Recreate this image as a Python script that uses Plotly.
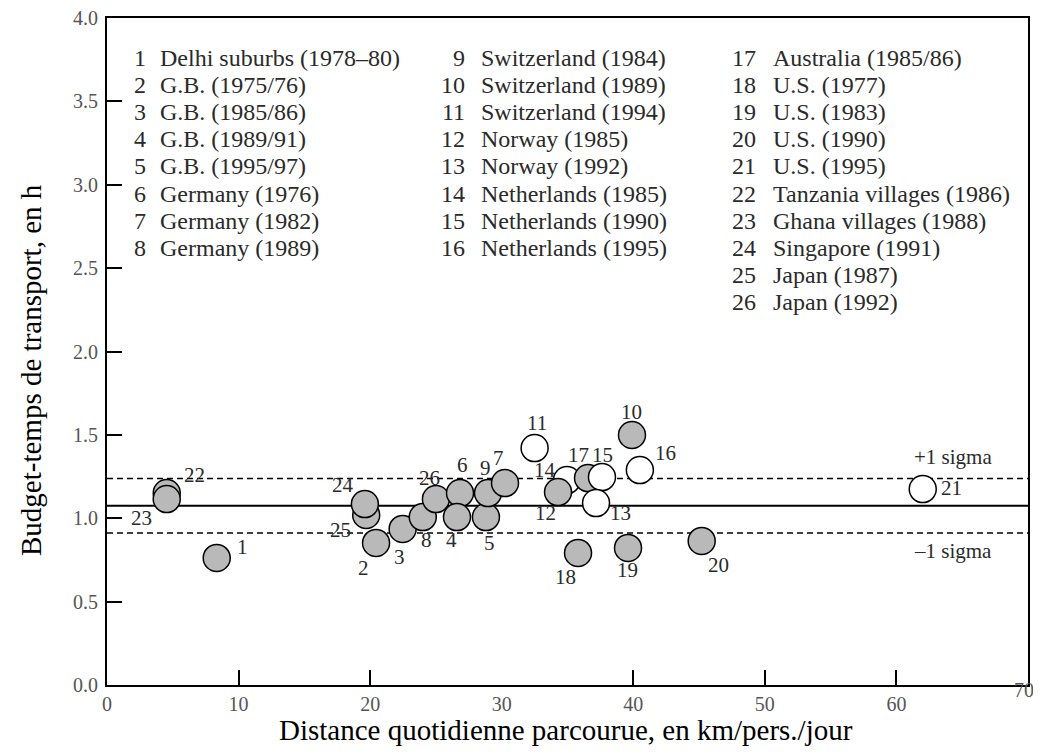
import plotly.graph_objects as go

# ---------------- data ----------------
IDS = list(range(1, 27))
NAMES = [
    "Delhi suburbs (1978–80)", "G.B. (1975/76)", "G.B. (1985/86)", "G.B. (1989/91)",
    "G.B. (1995/97)", "Germany (1976)", "Germany (1982)", "Germany (1989)",
    "Switzerland (1984)", "Switzerland (1989)", "Switzerland (1994)", "Norway (1985)",
    "Norway (1992)", "Netherlands (1985)", "Netherlands (1990)", "Netherlands (1995)",
    "Australia (1985/86)", "U.S. (1977)", "U.S. (1983)", "U.S. (1990)", "U.S. (1995)",
    "Tanzania villages (1986)", "Ghana villages (1988)", "Singapore (1991)",
    "Japan (1987)", "Japan (1992)",
]
DISTANCE = [8.34, 20.45, 22.47, 26.6, 28.8, 26.83, 30.25, 24.0, 28.96, 39.9, 32.5, 34.28,
            37.17, 34.96, 37.62, 40.5, 36.56, 35.8, 39.6, 45.2, 62.0, 4.54, 4.54, 19.6,
            19.7, 25.0]
BUDGET = [0.762, 0.852, 0.936, 1.007, 1.007, 1.151, 1.211, 1.007, 1.151, 1.499, 1.421,
          1.157, 1.091, 1.229, 1.247, 1.289, 1.241, 0.792, 0.822, 0.864, 1.175, 1.151,
          1.115, 1.085, 1.02, 1.115]
OPEN_IDS = [11, 13, 14, 15, 16, 21]
MEAN = 1.075
SIGMA = 0.163
X_TICKS = [0, 10, 20, 30, 40, 50, 60, 70]
X_TICK_MARKS = [10, 20, 40, 50, 60]
Y_TICKS = [0.0, 0.5, 1.0, 1.5, 2.0, 2.5, 3.0, 3.5, 4.0]
LEGEND_COLUMNS = [IDS[0:8], IDS[8:16], IDS[16:26]]
X_TITLE = "Distance quotidienne parcourue, en km/pers./jour"
Y_TITLE = "Budget-temps de transport, en h"

# ---------------- layout / style ----------------
# the page body has an 8px margin, so the figure is placed at (8, 8) on screen
OFF = 8
W, H = 1041 - 2 * OFF, 755 - 2 * OFF
# target plot-area edges in screen pixels
L, R, T, B = 107, 1028, 18, 685
FONT = "Liberation Serif, Times New Roman, serif"
GREY = "#b9b9b9"
TXT = "#2a2a2a"

# drawing order (which circle lies on top of which)
DRAW_ORDER = [22, 23, 1, 25, 24, 2, 3, 8, 26, 6, 4, 5, 9, 7, 11, 14, 12, 17, 15, 13,
              10, 16, 18, 19, 20, 21]
# label offsets in pixels (dx right, dy down) relative to marker centre
LABEL_OFFSET = {
    1: (26, -11), 2: (-13, 25), 3: (-3, 28), 4: (-5, 23), 5: (4, 26), 6: (2, -28),
    7: (-7, -25), 8: (4, 23), 9: (-3, -25), 10: (0, -23), 11: (2, -25), 12: (-13, 21),
    13: (24, 10), 14: (-22, -10), 15: (1, -22), 16: (26, -17), 17: (-10, -23),
    18: (-13, 24), 19: (-1, 22), 20: (17, 24), 21: (29, -1), 22: (28, -18),
    23: (-25, 19), 24: (-22, -19), 25: (-26, 15), 26: (-6, -21),
}


def px_to_paper_x(px):
    return (px - L) / (R - L)


def px_to_paper_y(py):
    return (B - py) / (B - T)


fig = go.Figure()

# mean and +/- 1 sigma lines
for yv, dash, width in [(MEAN, "solid", 2), (MEAN + SIGMA, "6px,4px", 1.5),
                        (MEAN - SIGMA, "6px,4px", 1.5)]:
    fig.add_trace(go.Scatter(x=[0, 70], y=[yv, yv], mode="lines",
                             line=dict(color="black", width=width, dash=dash),
                             hoverinfo="skip", showlegend=False, cliponaxis=False))

idx = {i: k for k, i in enumerate(IDS)}
ordered = [idx[i] for i in DRAW_ORDER]
fig.add_trace(go.Scatter(
    x=[DISTANCE[k] for k in ordered],
    y=[BUDGET[k] for k in ordered],
    mode="markers",
    marker=dict(size=27,
                color=["white" if IDS[k] in OPEN_IDS else GREY for k in ordered],
                line=dict(color="black", width=1.5)),
    text=[NAMES[k] for k in ordered],
    showlegend=False,
))

# invisible trace for the overlay axis carrying the tick marks
fig.add_trace(go.Scatter(x=[None], y=[None], xaxis="x2", showlegend=False,
                         hoverinfo="skip"))

annotations = []
# point number labels
for i, xv, yv in zip(IDS, DISTANCE, BUDGET):
    dx, dy = LABEL_OFFSET[i]
    annotations.append(dict(x=xv, y=yv, xref="x", yref="y", text=str(i),
                            showarrow=False, xshift=dx, yshift=-dy,
                            font=dict(family=FONT, size=21, color=TXT)))

# sigma labels
annotations.append(dict(x=70, y=MEAN + SIGMA, xref="x", yref="y", text="+1 sigma",
                        showarrow=False, xanchor="center", xshift=-75, yshift=22,
                        font=dict(family=FONT, size=21, color=TXT)))
annotations.append(dict(x=70, y=MEAN - SIGMA, xref="x", yref="y", text="–1 sigma",
                        showarrow=False, xanchor="center", xshift=-75, yshift=-18,
                        font=dict(family=FONT, size=21, color=TXT)))

# list of surveys (in-plot key)
col_num_right = [148, 467, 758]
col_name_left = [158, 479, 771]
row_top = 58
row_step = 27.1
for c, col in enumerate(LEGEND_COLUMNS):
    for r, i in enumerate(col):
        ypx = row_top + r * row_step
        annotations.append(dict(x=px_to_paper_x(col_num_right[c]), y=px_to_paper_y(ypx),
                                xref="paper", yref="paper", text=str(i),
                                showarrow=False, xanchor="right", yanchor="middle",
                                font=dict(family=FONT, size=24, color=TXT)))
        annotations.append(dict(x=px_to_paper_x(col_name_left[c]), y=px_to_paper_y(ypx),
                                xref="paper", yref="paper", text=NAMES[i - 1],
                                showarrow=False, xanchor="left", yanchor="middle",
                                font=dict(family=FONT, size=24, color=TXT)))

# last x tick label sits at the right edge, slightly raised
annotations.append(dict(x=X_TICKS[-1], y=px_to_paper_y(690), xref="x", yref="paper",
                        text=str(X_TICKS[-1]), showarrow=False, xanchor="center",
                        yanchor="middle", xshift=-4,
                        font=dict(family=FONT, size=20, color="#555555")))

# axis titles
annotations.append(dict(x=px_to_paper_x(566), y=px_to_paper_y(730), xref="paper",
                        yref="paper", text=X_TITLE, showarrow=False,
                        xanchor="center", yanchor="middle",
                        font=dict(family=FONT, size=29, color="black")))
annotations.append(dict(x=px_to_paper_x(31), y=px_to_paper_y(370), xref="paper",
                        yref="paper", text=Y_TITLE, showarrow=False, textangle=-90,
                        xanchor="center", yanchor="middle",
                        font=dict(family=FONT, size=29, color="black")))

axis_common = dict(showgrid=False, zeroline=False, showline=True, mirror=True,
                   linecolor="black", linewidth=2, automargin=False,
                   ticklabeloverflow="allow")

fig.update_layout(
    width=W, height=H,
    margin=dict(l=L - OFF, r=(OFF + W) - R, t=T - OFF, b=(OFF + H) - B, pad=0),
    paper_bgcolor="white", plot_bgcolor="white",
    font=dict(family=FONT, color="black"),
    xaxis=dict(range=[0, 70], tickvals=X_TICKS[:-1],
               ticktext=[str(v) for v in X_TICKS[:-1]], ticks="",
               tickfont=dict(family=FONT, size=20, color="#555555"),
               ticklabelstandoff=0, **axis_common),
    xaxis2=dict(range=[0, 70], overlaying="x", anchor="y", side="bottom",
                tickvals=X_TICK_MARKS, ticks="inside", ticklen=15, tickwidth=1.5,
                tickcolor="black", showticklabels=False, showgrid=False,
                zeroline=False, showline=False, automargin=False),
    yaxis=dict(range=[0, 4], tickvals=Y_TICKS, tickformat=".1f", ticks="inside",
               ticklen=15, tickwidth=1.5, tickcolor="black",
               tickfont=dict(family=FONT, size=20, color="#555555"),
               ticklabelstandoff=3, **axis_common),
    annotations=annotations,
    showlegend=False,
)

fig.write_html("out.html")
